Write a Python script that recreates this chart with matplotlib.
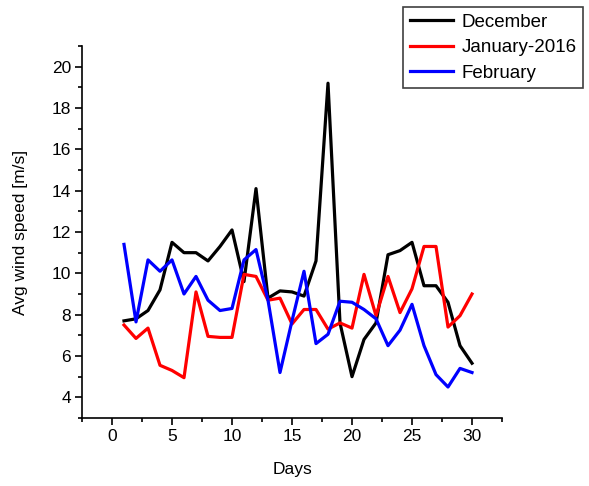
import matplotlib.pyplot as plt
import numpy as np
from matplotlib.ticker import MultipleLocator

plt.rcParams['font.family'] = ['Liberation Sans', 'DejaVu Sans']

days = np.arange(1, 31)

december = [7.7, 7.8, 8.2, 9.2, 11.5, 11.0, 11.0, 10.6, 11.3, 12.1,
            9.6, 14.1, 8.8, 9.15, 9.1, 8.9, 10.6, 19.2, 7.6, 5.0,
            6.8, 7.6, 10.9, 11.1, 11.5, 9.4, 9.4, 8.6, 6.5, 5.65]
january = [7.5, 6.85, 7.35, 5.55, 5.3, 4.95, 9.1, 6.95, 6.9, 6.9,
           9.95, 9.85, 8.7, 8.8, 7.55, 8.25, 8.25, 7.3, 7.6, 7.35,
           9.95, 7.95, 9.85, 8.1, 9.25, 11.3, 11.3, 7.4, 7.95, 9.0]
february = [11.4, 7.65, 10.65, 10.1, 10.65, 9.0, 9.85, 8.7, 8.2, 8.3,
            10.65, 11.15, 8.7, 5.2, 7.7, 10.1, 6.6, 7.05, 8.65, 8.6,
            8.25, 7.8, 6.5, 7.25, 8.5, 6.5, 5.1, 4.5, 5.4, 5.2]

fig = plt.figure(figsize=(5.89, 4.86), dpi=100)
ax = fig.add_axes([82/589, 1-418/486, (502-82)/589, (418-46)/486])

ax.plot(days, december, color='black', lw=2.3, label='December')
ax.plot(days, january, color='red', lw=2.3, label='January-2016')
ax.plot(days, february, color='blue', lw=2.3, label='February')

ax.set_xlim(-2.5, 32.5)
ax.set_ylim(3, 21)
ax.xaxis.set_major_locator(MultipleLocator(5))
ax.xaxis.set_minor_locator(MultipleLocator(2.5))
ax.yaxis.set_major_locator(MultipleLocator(2))
ax.yaxis.set_minor_locator(MultipleLocator(1))
ax.set_yticks(range(4, 21, 2))

for s in ['top', 'right']:
    ax.spines[s].set_visible(False)
for s in ['left', 'bottom']:
    ax.spines[s].set_linewidth(1.2)

ax.tick_params(which='major', direction='out', length=5, width=1.2, labelsize=12.5, pad=3)
ax.tick_params(which='minor', direction='out', length=3, width=1.2)

ax.set_xlabel('Days', fontsize=12.5, labelpad=13)
ax.set_ylabel('Avg wind speed [m/s]', fontsize=12.5, labelpad=17)

leg = fig.legend(loc='upper right', bbox_to_anchor=(583/589, 1-7/486), borderaxespad=0,
                 fancybox=False, edgecolor='#404040', fontsize=13.5, handlelength=2.3,
                 handletextpad=0.45, labelspacing=0.45, borderpad=0.35, framealpha=1)
leg.get_frame().set_linewidth(1.2)

fig.savefig('out.png', dpi=100)
